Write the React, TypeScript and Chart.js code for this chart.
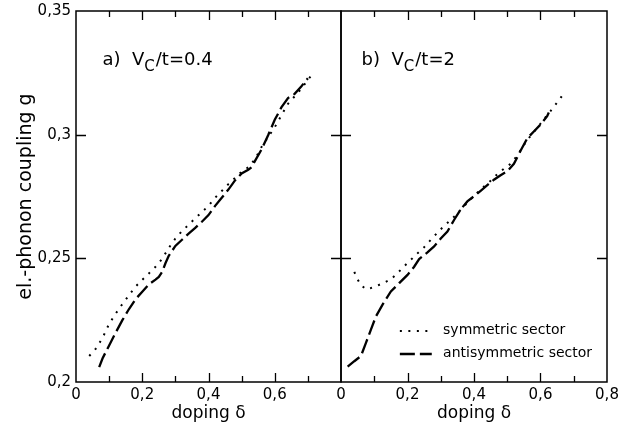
import React, { useEffect, useRef } from 'react';
import { Chart, registerables } from 'chart.js';

Chart.register(...registerables);

// ---- data: panel a) V_C/t = 0.4 ----
const A_SYM_DELTA = [0.04, 0.06, 0.08, 0.10, 0.12, 0.14, 0.16, 0.18, 0.20, 0.22, 0.24, 0.26, 0.28, 0.30, 0.32, 0.34, 0.36, 0.38, 0.40, 0.42, 0.44, 0.46, 0.48, 0.50, 0.52, 0.54, 0.56, 0.58, 0.60, 0.62, 0.64, 0.66, 0.68, 0.70, 0.71];
const A_SYM_G = [0.2105, 0.2135, 0.2178, 0.2235, 0.2277, 0.2315, 0.2351, 0.2386, 0.2413, 0.2439, 0.2466, 0.2498, 0.2542, 0.2580, 0.2610, 0.2636, 0.2662, 0.2687, 0.2712, 0.2745, 0.2772, 0.2800, 0.2825, 0.2850, 0.2868, 0.2900, 0.2950, 0.2990, 0.3030, 0.3078, 0.3125, 0.3155, 0.3185, 0.3222, 0.3238];

const A_ANTI_DELTA = [0.07, 0.08, 0.10, 0.12, 0.14, 0.16, 0.18, 0.20, 0.22, 0.24, 0.25, 0.26, 0.27, 0.28, 0.30, 0.32, 0.34, 0.36, 0.38, 0.40, 0.42, 0.44, 0.46, 0.48, 0.50, 0.52, 0.53, 0.54, 0.56, 0.58, 0.60, 0.62, 0.64, 0.66, 0.68, 0.70];
const A_ANTI_G = [0.2060, 0.2095, 0.2148, 0.2200, 0.2250, 0.2295, 0.2335, 0.2365, 0.2395, 0.2414, 0.2425, 0.2445, 0.2480, 0.2510, 0.2550, 0.2575, 0.2600, 0.2623, 0.2648, 0.2675, 0.2712, 0.2745, 0.2778, 0.2815, 0.2843, 0.2858, 0.2868, 0.2893, 0.2940, 0.2998, 0.3060, 0.3110, 0.3148, 0.3165, 0.3195, 0.3228];

// ---- data: panel b) V_C/t = 2 ----
const B_SYM_DELTA = [0.04, 0.05, 0.06, 0.075, 0.09, 0.11, 0.13, 0.15, 0.17, 0.19, 0.21, 0.23, 0.25, 0.27, 0.29, 0.31, 0.33, 0.35, 0.37, 0.39, 0.41, 0.43, 0.45, 0.47, 0.49, 0.51, 0.53, 0.55, 0.57, 0.59, 0.61, 0.63, 0.65, 0.67];
const B_SYM_G = [0.2445, 0.2415, 0.2392, 0.2375, 0.2380, 0.2390, 0.2402, 0.2415, 0.2440, 0.2468, 0.2494, 0.2520, 0.2545, 0.2575, 0.2604, 0.2631, 0.2655, 0.2681, 0.2711, 0.2739, 0.2765, 0.2790, 0.2814, 0.2840, 0.2862, 0.2882, 0.2915, 0.2958, 0.2995, 0.3027, 0.3062, 0.3095, 0.3130, 0.3166];

const B_ANTI_DELTA = [0.02, 0.04, 0.06, 0.075, 0.09, 0.105, 0.125, 0.15, 0.175, 0.20, 0.22, 0.235, 0.26, 0.28, 0.30, 0.32, 0.34, 0.36, 0.38, 0.40, 0.42, 0.44, 0.46, 0.48, 0.50, 0.52, 0.54, 0.56, 0.58, 0.60, 0.62, 0.625];
const B_ANTI_G = [0.2062, 0.2084, 0.2105, 0.2158, 0.2212, 0.2265, 0.2313, 0.2366, 0.2400, 0.2433, 0.2466, 0.2497, 0.2524, 0.2548, 0.2580, 0.2608, 0.2655, 0.2698, 0.2730, 0.2751, 0.2773, 0.2796, 0.2818, 0.2836, 0.2852, 0.2882, 0.2935, 0.2985, 0.3013, 0.3041, 0.3075, 0.3090];

// ---- axes / labels ----
const X_MIN = 0;
const X_MAX = 0.8;
const X_STEP = 0.2;
const X_TICK_MARKS = [0.1, 0.2, 0.3, 0.4, 0.5, 0.6, 0.7];
const X_TICK_MAJOR = [false, true, false, true, false, true, false];
const Y_MIN = 0.2;
const Y_MAX = 0.35;
const Y_STEP = 0.05;
const Y_TICK_MARKS = [0.25, 0.3];
const X_TITLE = 'doping δ';
const Y_TITLE = 'el.-phonon coupling g';
const LEGEND_LABELS = ['symmetric sector', 'antisymmetric sector'];
const PANEL_A_LABEL = ['a)  V', 'C', '/t=0.4'];
const PANEL_B_LABEL = ['b)  V', 'C', '/t=2'];
const PANEL_LABEL_POS = { x: 0.08, y: 0.328 };
const PANEL_B_LABEL_POS = { x: 0.062, y: 0.328 };
const LEGEND_POS = { x0: 0.177, x1: 0.273, xText: 0.307, y: [0.2205, 0.2112] };

const FONT = "'DejaVu Sans', 'Liberation Sans', sans-serif";
const SYM_DASH = [2, 6.5];
const ANTI_DASH = [15, 5];

const fmt = (v: number) => String(Math.round(v * 100) / 100).replace('.', ',');
const pts = (xs: number[], ys: number[]) => xs.map((x, i) => ({ x, y: ys[i] }));

const framePlugin = {
  id: 'frame',
  afterDraw(chart: any) {
    const { ctx, chartArea: a, scales } = chart;
    const xs = scales.x;
    const ys = scales.y;
    ctx.save();
    ctx.setLineDash([]);
    ctx.lineCap = 'butt';
    ctx.strokeStyle = '#000';
    ctx.lineWidth = 1.3;
    for (let i = 0; i < X_TICK_MARKS.length; i++) {
      const px = Math.round(xs.getPixelForValue(X_TICK_MARKS[i])) + 0.5;
      const len = X_TICK_MAJOR[i] ? 9 : 6;
      ctx.beginPath();
      ctx.moveTo(px, a.bottom);
      ctx.lineTo(px, a.bottom - len);
      ctx.moveTo(px, a.top);
      ctx.lineTo(px, a.top + len);
      ctx.stroke();
    }
    for (let i = 0; i < Y_TICK_MARKS.length; i++) {
      const py = Math.round(ys.getPixelForValue(Y_TICK_MARKS[i])) + 0.5;
      ctx.beginPath();
      ctx.moveTo(a.left, py);
      ctx.lineTo(a.left + 10, py);
      ctx.moveTo(a.right, py);
      ctx.lineTo(a.right - 10, py);
      ctx.stroke();
    }
    ctx.lineWidth = 1.5;
    ctx.strokeRect(a.left, a.top, a.right - a.left, a.bottom - a.top);
    ctx.restore();
  },
};

const drawPanelLabel = (chart: any, parts: string[], pos: { x: number; y: number }) => {
  const { ctx, scales } = chart;
  let x = scales.x.getPixelForValue(pos.x);
  const y = scales.y.getPixelForValue(pos.y);
  ctx.save();
  ctx.fillStyle = '#000';
  ctx.textBaseline = 'alphabetic';
  ctx.textAlign = 'left';
  ctx.font = `18px ${FONT}`;
  ctx.fillText(parts[0], x, y);
  x += ctx.measureText(parts[0]).width;
  ctx.font = `15px ${FONT}`;
  ctx.fillText(parts[1], x, y + 6);
  x += ctx.measureText(parts[1]).width + 1;
  ctx.font = `18px ${FONT}`;
  ctx.fillText(parts[2], x, y);
  ctx.restore();
};

const makeLabelPlugin = (parts: string[], pos: { x: number; y: number }) => ({
  id: 'panelLabel',
  afterDraw(chart: any) {
    drawPanelLabel(chart, parts, pos);
  },
});

const legendPlugin = {
  id: 'customLegend',
  afterDraw(chart: any) {
    const { ctx, scales } = chart;
    const x0 = scales.x.getPixelForValue(LEGEND_POS.x0);
    const x1 = scales.x.getPixelForValue(LEGEND_POS.x1);
    const xt = scales.x.getPixelForValue(LEGEND_POS.xText);
    ctx.save();
    chart.data.datasets.forEach((ds: any, i: number) => {
      const y = Math.round(scales.y.getPixelForValue(LEGEND_POS.y[i]));
      ctx.strokeStyle = ds.borderColor;
      ctx.lineWidth = ds.borderWidth;
      ctx.setLineDash(ds.borderDash);
      ctx.lineCap = 'butt';
      ctx.beginPath();
      ctx.moveTo(x0, y);
      ctx.lineTo(x1, y);
      ctx.stroke();
      ctx.setLineDash([]);
      ctx.fillStyle = '#000';
      ctx.font = `14px ${FONT}`;
      ctx.textBaseline = 'middle';
      ctx.textAlign = 'left';
      ctx.fillText(LEGEND_LABELS[i], xt, y - 1);
    });
    ctx.restore();
  },
};

const makeDatasets = (symX: number[], symY: number[], antiX: number[], antiY: number[]) => [
  {
    label: LEGEND_LABELS[0],
    data: pts(symX, symY),
    borderColor: '#000',
    borderWidth: 2,
    borderDash: SYM_DASH,
    borderCapStyle: 'butt',
    pointRadius: 0,
    tension: 0,
    fill: false,
  },
  {
    label: LEGEND_LABELS[1],
    data: pts(antiX, antiY),
    borderColor: '#000',
    borderWidth: 2.3,
    borderDash: ANTI_DASH,
    borderCapStyle: 'butt',
    pointRadius: 0,
    tension: 0,
    fill: false,
  },
];

const makeOptions = (left: boolean): any => ({
  responsive: true,
  maintainAspectRatio: false,
  animation: false,
  events: [],
  layout: { padding: left ? { left: 0, right: 4, top: 11, bottom: 0 } : { left: 41, right: 24, top: 11, bottom: 0 } },
  plugins: { legend: { display: false }, tooltip: { enabled: false } },
  scales: {
    x: {
      type: 'linear',
      min: X_MIN,
      max: X_MAX,
      grid: { display: false, drawTicks: false },
      border: { display: false },
      ticks: {
        stepSize: X_STEP,
        padding: 4,
        color: '#000',
        font: { size: 15, family: FONT },
        maxRotation: 0,
        callback: (v: number) => (left && Math.abs(v - X_MAX) < 1e-6 ? '' : fmt(v)),
      },
      title: {
        display: true,
        text: X_TITLE,
        color: '#000',
        font: { size: 17, family: FONT },
        padding: { top: 0, bottom: 3 },
      },
      afterFit: (s: any) => {
        s.height = 45;
        s.paddingLeft = 0;
        s.paddingRight = 0;
      },
    },
    y: {
      type: 'linear',
      min: Y_MIN,
      max: Y_MAX,
      grid: { display: false, drawTicks: false },
      border: { display: false },
      ticks: {
        display: left,
        stepSize: Y_STEP,
        padding: 5,
        color: '#000',
        font: { size: 15, family: FONT },
        callback: (v: number) => fmt(v),
      },
      title: {
        display: left,
        text: Y_TITLE,
        color: '#000',
        font: { size: 19, family: FONT },
        padding: { top: 15, bottom: 0 },
      },
      afterFit: (s: any) => {
        s.width = left ? 76 : 0;
        s.paddingTop = 0;
        s.paddingBottom = 0;
      },
    },
  },
});

function Panel({ left }: { left: boolean }) {
  const ref = useRef<HTMLCanvasElement>(null);
  useEffect(() => {
    if (!ref.current) return;
    const datasets = left
      ? makeDatasets(A_SYM_DELTA, A_SYM_G, A_ANTI_DELTA, A_ANTI_G)
      : makeDatasets(B_SYM_DELTA, B_SYM_G, B_ANTI_DELTA, B_ANTI_G);
    const plugins: any[] = [framePlugin];
    plugins.push(left ? makeLabelPlugin(PANEL_A_LABEL, PANEL_LABEL_POS) : makeLabelPlugin(PANEL_B_LABEL, PANEL_B_LABEL_POS));
    if (!left) plugins.push(legendPlugin);
    const chart = new Chart(ref.current, {
      type: 'line',
      data: { datasets } as any,
      options: makeOptions(left),
      plugins,
    });
    return () => chart.destroy();
  }, [left]);
  const style: React.CSSProperties = left
    ? { position: 'absolute', left: 0, top: 0, width: 345, height: 427 }
    : { position: 'absolute', left: 300, top: 0, width: 331, height: 427 };
  return (
    <div style={style}>
      <canvas ref={ref} />
    </div>
  );
}

export default function App() {
  return (
    <div style={{ position: 'fixed', left: 0, top: 0, width: 631, height: 427, background: '#fff' }}>
      <Panel left={true} />
      <Panel left={false} />
    </div>
  );
}
